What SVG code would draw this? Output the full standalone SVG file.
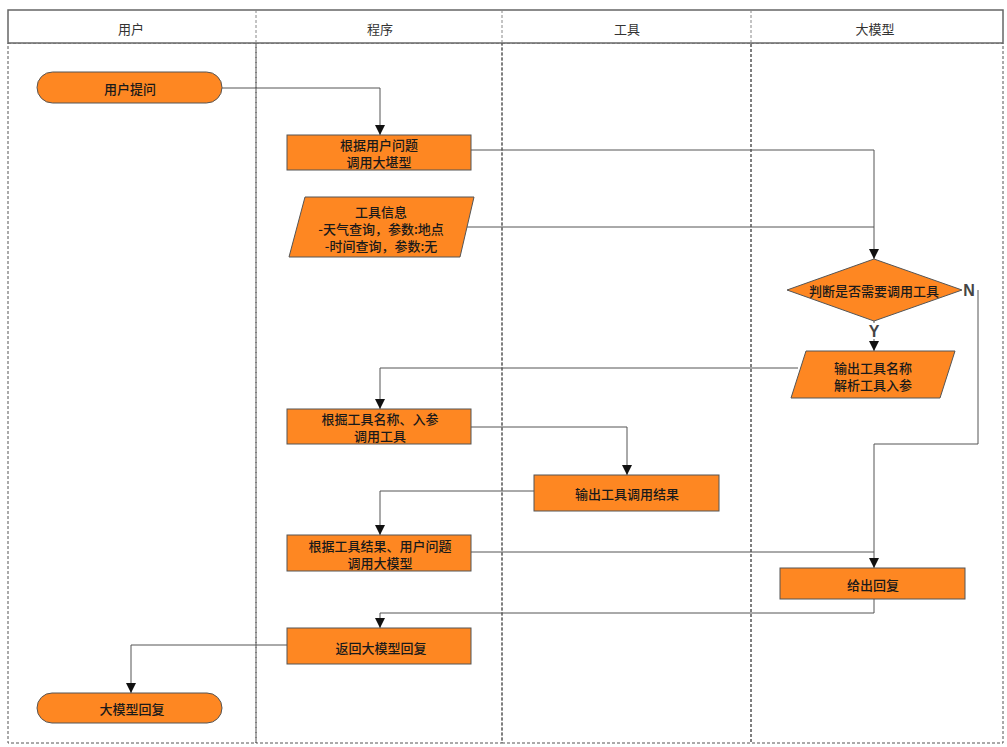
<svg xmlns="http://www.w3.org/2000/svg" width="1007" height="747" viewBox="0 0 1007 747">
<style>
.lane{fill:none;stroke:#555;stroke-width:1;stroke-dasharray:3,2}
.hdr{fill:#fff;stroke:#666;stroke-width:1.5}
.ht{font-family:"Noto Sans CJK SC","Noto Sans",sans-serif;font-size:13px;fill:#333;text-anchor:middle;dominant-baseline:central}
.n{fill:#FE8722;stroke:#555;stroke-width:1}
.t{font-family:"Noto Sans CJK SC","Noto Sans",sans-serif;font-size:13px;font-weight:500;fill:#1a1a1a;text-anchor:middle;dominant-baseline:central}
.c{fill:none;stroke:#555;stroke-width:1}
.lbl{font-family:"Liberation Sans",Arial,sans-serif;font-size:16px;font-weight:bold;fill:#444;text-anchor:middle;dominant-baseline:central}
</style>
<defs>
<marker id="arr" viewBox="0 0 10 10" refX="10" refY="5" markerWidth="10" markerHeight="10" markerUnits="userSpaceOnUse" orient="auto">
<path d="M0,0 L10,5 L0,10 z" fill="#111"/>
</marker>
</defs>
<rect width="1007" height="747" fill="#fff"/>
<g id="lanes">
<rect class="lane" x="8" y="43" width="248" height="700"/>
<rect class="lane" x="256" y="43" width="246" height="700"/>
<rect class="lane" x="502" y="43" width="249" height="700"/>
<rect class="lane" x="751" y="43" width="252" height="700"/>
<rect class="hdr" x="8" y="10" width="995" height="33"/>
<line x1="256" y1="10" x2="256" y2="43" stroke="#888" stroke-dasharray="3,2"/>
<line x1="502" y1="10" x2="502" y2="43" stroke="#888" stroke-dasharray="3,2"/>
<line x1="751" y1="10" x2="751" y2="43" stroke="#888" stroke-dasharray="3,2"/>
<text class="ht" x="131" y="28">用户</text>
<text class="ht" x="380" y="28">程序</text>
<text class="ht" x="627" y="28">工具</text>
<text class="ht" x="875" y="28">大模型</text>
</g>
<g id="connectors">
<polyline class="c" points="222,88 380,88 380,135" marker-end="url(#arr)"/>
<polyline class="c" points="471,150 874,150 874,259" marker-end="url(#arr)"/>
<polyline class="c" points="467,227 874,227"/>
<polyline class="c" points="874,321 874,351" marker-end="url(#arr)"/>
<polyline class="c" points="978,290 978,444 874,444 874,568" marker-end="url(#arr)"/>
<polyline class="c" points="798,368 380,368 380,409" marker-end="url(#arr)"/>
<polyline class="c" points="471,427 627,427 627,475" marker-end="url(#arr)"/>
<polyline class="c" points="534,491 380,491 380,535" marker-end="url(#arr)"/>
<polyline class="c" points="471,552 874,552"/>
<polyline class="c" points="874,599 874,613 380,613 380,628" marker-end="url(#arr)"/>
<polyline class="c" points="287,645 131,645 131,693" marker-end="url(#arr)"/>
<rect x="866" y="323" width="16" height="16" fill="#fff"/>
<text class="lbl" x="874" y="331">Y</text>
<rect x="962" y="282" width="14" height="16" fill="#fff"/>
<text class="lbl" x="969" y="290">N</text>
</g>
<g id="n1">
<rect class="n" x="37" y="72" width="185" height="31" rx="15.5"/>
<text class="t" x="130" y="88">用户提问</text>
</g>
<g id="n2">
<rect class="n" x="287" y="135" width="184" height="35"/>
<text class="t" x="379" y="144.5">根据用户问题</text>
<text class="t" x="379" y="161.5">调用大堪型</text>
</g>
<g id="n3">
<polygon class="n" points="305,197 474,197 460,257 289,257"/>
<text class="t" x="381" y="211">工具信息</text>
<text class="t" x="381" y="228">-天气查询，参数:地点</text>
<text class="t" x="381" y="245">-时间查询，参数:无</text>
</g>
<g id="n4">
<polygon class="n" points="874,259 962,290 874,321 787,290"/>
<text class="t" x="874" y="290">判断是否需要调用工具</text>
</g>
<g id="n5">
<polygon class="n" points="806,351 955,351 940,398 791,398"/>
<text class="t" x="873" y="367.5">输出工具名称</text>
<text class="t" x="873" y="384.5">解析工具入参</text>
</g>
<g id="n6">
<rect class="n" x="287" y="409" width="184" height="35"/>
<text class="t" x="380" y="418.5">根掘工具名称、入参</text>
<text class="t" x="380" y="435.5">调用工具</text>
</g>
<g id="n7">
<rect class="n" x="534" y="475" width="185" height="36"/>
<text class="t" x="627" y="493">输出工具调用结果</text>
</g>
<g id="n8">
<rect class="n" x="287" y="535" width="184" height="36"/>
<text class="t" x="380" y="545">根据工具结果、用户问题</text>
<text class="t" x="380" y="562">调用大模型</text>
</g>
<g id="n9">
<rect class="n" x="780" y="568" width="185" height="31"/>
<text class="t" x="873" y="584">给出回复</text>
</g>
<g id="n10">
<rect class="n" x="287" y="628" width="184" height="36"/>
<text class="t" x="381" y="647">返回大模型回复</text>
</g>
<g id="n11">
<rect class="n" x="37" y="693" width="185" height="30" rx="15"/>
<text class="t" x="132" y="708">大模型回复</text>
</g>
</svg>
